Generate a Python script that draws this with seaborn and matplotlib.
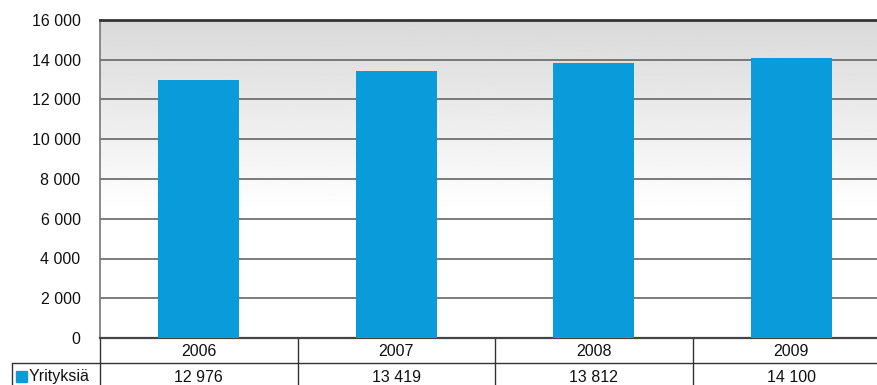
import numpy as np
import pandas as pd
import matplotlib
matplotlib.use("Agg")
import matplotlib.pyplot as plt
import matplotlib.transforms as mtransforms
import seaborn as sns

years = ["2006", "2007", "2008", "2009"]
values = [12976, 13419, 13812, 14100]
value_labels = ["12 976", "13 419", "13 812", "14 100"]
series_name = "Yrityksiä"
yticks = [0, 2000, 4000, 6000, 8000, 10000, 12000, 14000, 16000]
ytick_labels = ["0", "2 000", "4 000", "6 000", "8 000", "10 000", "12 000", "14 000", "16 000"]

sns.set_theme(style="white")
plt.rcParams['font.family'] = ['Liberation Sans', 'DejaVu Sans']

W, H = 877, 385
fig = plt.figure(figsize=(W / 100, H / 100), dpi=100)
fig.patch.set_facecolor("white")
left_px, right_px, top_px, bot_px = 100, 890, 20, 338
ax = fig.add_axes([left_px / W, (H - bot_px) / H, (right_px - left_px) / W, (bot_px - top_px) / H])

df = pd.DataFrame({"year": years, "value": values})
bar_color = "#0A9BDB"
sns.barplot(data=df, x="year", y="value", color=bar_color, width=0.41, saturation=1,
            ax=ax, zorder=3, edgecolor="none")

# gradient background: grey at top fading to white
n = 256
t = np.linspace(0, 1, n)
grad = np.clip(0.85 + 0.15 * t / 0.6, 0, 1).reshape(-1, 1)
ax.imshow(grad, extent=[-0.5, 3.5, 0, 16000], aspect="auto", cmap="gray", vmin=0, vmax=1,
          zorder=0, origin="upper")
ax.set_xlim(-0.5, 3.5)
ax.set_ylim(0, 16000)

fs = 11.5
tc = "#111111"
ax.set_yticks(yticks)
ax.set_yticklabels(ytick_labels, fontsize=fs, color=tc)
ax.tick_params(axis="y", length=0, pad=14)
ax.set_xticks([])
ax.set_xlabel("")
ax.set_ylabel("")
for y in yticks[1:-1]:
    ax.axhline(y, color="#666666", lw=1.2, zorder=1)

ax.spines["left"].set_color("#777777")
ax.spines["left"].set_linewidth(1.2)
ax.spines["bottom"].set_color("#444444")
ax.spines["bottom"].set_linewidth(1.6)
ax.spines["top"].set_color("#333333")
ax.spines["top"].set_linewidth(2.0)
ax.spines["right"].set_visible(False)

# table below
ax_h = bot_px - top_px
def ay(px):
    return -(px - bot_px) / ax_h

trans = mtransforms.blended_transform_factory(ax.transData, ax.transAxes)
ftrans = mtransforms.blended_transform_factory(fig.transFigure, ax.transAxes)
row1_bottom = ay(363)
row_end = ay(392)
line_kw = dict(color="#333333", lw=1.0, clip_on=False)

ax.plot([12 / W, right_px / W], [row1_bottom, row1_bottom], transform=ftrans, **line_kw)
ax.plot([12 / W, 12 / W], [row1_bottom, row_end], transform=ftrans, **line_kw)
ax.plot([-0.5, -0.5], [0, row_end], transform=trans, **line_kw)
for i in range(1, len(years)):
    ax.plot([i - 0.5, i - 0.5], [0, row_end], transform=trans, **line_kw)

for i, (yr, vl) in enumerate(zip(years, value_labels)):
    ax.text(i, ay(351), yr, transform=trans, ha="center", va="center", fontsize=fs, color=tc)
    ax.text(i, ay(377), vl, transform=trans, ha="center", va="center", fontsize=fs, color=tc)

# legend key
fig.patches.append(plt.Rectangle((16 / W, (H - 382) / H), 11 / W, 11 / H,
                                 transform=fig.transFigure, color=bar_color))
fig.text(29 / W, (H - 377) / H, series_name, ha="left", va="center", fontsize=fs, color=tc)

fig.savefig("out.png", dpi=100, facecolor="white")
